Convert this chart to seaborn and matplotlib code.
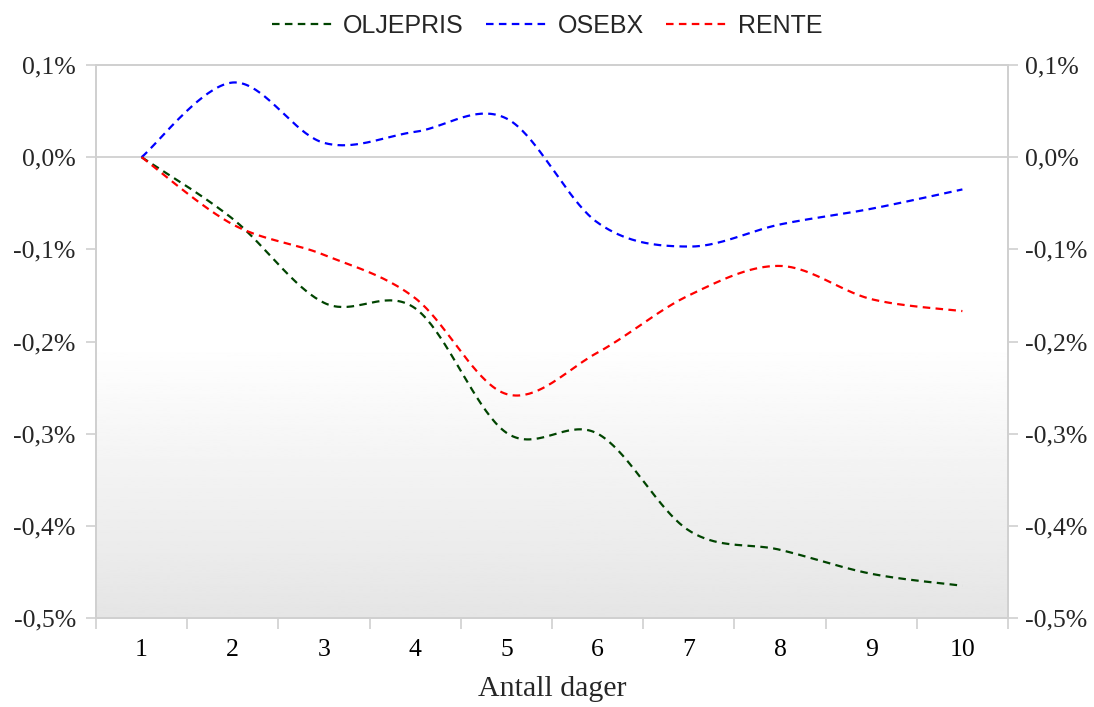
import numpy as np
import pandas as pd
import matplotlib
matplotlib.use("Agg")
import matplotlib.pyplot as plt
import seaborn as sns
from matplotlib.ticker import FuncFormatter, FixedLocator

# ---- data (percent) ----
days = [1, 2, 3, 4, 5, 6, 7, 8, 9, 10]
oljepris = [0.0, -0.067, -0.158, -0.164, -0.299, -0.300, -0.405, -0.426, -0.452, -0.465]
osebx = [0.0, 0.081, 0.0155, 0.0275, 0.042, -0.071, -0.097, -0.073, -0.056, -0.035]
rente = [0.0, -0.073, -0.106, -0.153, -0.257, -0.212, -0.150, -0.118, -0.154, -0.167]
series_names = ["OLJEPRIS", "OSEBX", "RENTE"]
colors = ["#004400", "#0000ff", "#ff0000"]
yticks = [0.1, 0.0, -0.1, -0.2, -0.3, -0.4, -0.5]


def smooth(xs, ys, n=40):
    """Excel-style smoothed line: cubic Bezier segments with Catmull-Rom control points."""
    P = np.column_stack([xs, ys]).astype(float)
    m = len(P)
    out = []
    for i in range(m - 1):
        p0 = P[max(i - 1, 0)]
        p1 = P[i]
        p2 = P[i + 1]
        p3 = P[min(i + 2, m - 1)]
        c1 = p1 + (p2 - p0) / 6.0
        c2 = p2 - (p3 - p1) / 6.0
        t = np.linspace(0, 1, n, endpoint=(i == m - 2))[:, None]
        seg = ((1 - t) ** 3) * p1 + 3 * ((1 - t) ** 2) * t * c1 + 3 * (1 - t) * t ** 2 * c2 + t ** 3 * p2
        out.append(seg)
    out = np.vstack(out)
    return out[:, 0], out[:, 1]


sns.set_theme(style="white")
plt.rcParams["font.family"] = ["Liberation Serif", "DejaVu Serif"]

fig = plt.figure(figsize=(10.94, 7.07), dpi=100)
ax = fig.add_axes([96 / 1094, 1 - 618 / 707, (1008 - 96) / 1094, (618 - 65) / 707])

# background gradient: white on top, light gray at bottom
yy = np.linspace(1, 0, 300)  # axes fraction top->bottom
start = 0.5
g = np.where(yy > start, 1.0, 1.0 - (start - yy) / start * (1 - 0.898))
ax.imshow(g[:, None], aspect="auto", cmap="gray", vmin=0, vmax=1,
          extent=[0, 1, 0, 1], transform=ax.transAxes, zorder=0)

ax.axhline(0, color="#d0d0d0", lw=1.3, zorder=1)

for name, vals, col in zip(series_names, [oljepris, osebx, rente], colors):
    sx, sy = smooth(days, vals)
    df = pd.DataFrame({"x": sx, "y": sy})
    sns.lineplot(data=df, x="x", y="y", ax=ax, sort=False, estimator=None,
                 color=col, linewidth=1.6, linestyle=(0, (3.4, 2.4)), label=name, zorder=3)

ax.set_xlim(0.5, 10.5)
ax.set_ylim(-0.5, 0.1)

fmt = FuncFormatter(lambda v, p: f"{v:.1f}%".replace(".", ",").replace("-0,0", "0,0"))
ax.yaxis.set_major_locator(FixedLocator(yticks))
ax.yaxis.set_major_formatter(fmt)

ax.set_xticks(days)
ax.set_xticklabels([str(d) for d in days])
ax.set_xticks(np.arange(0.5, 11, 1.0), minor=True)
ax.tick_params(axis="x", which="major", length=0, pad=15, labelsize=18.5, colors="black")
ax.tick_params(axis="x", which="minor", length=8, width=1.2, color="#d0d0d0", bottom=True)
ax.tick_params(axis="y", which="major", length=7.5, width=1.2, color="#d0d0d0", left=True,
               labelsize=18.5, pad=7)

for s in ax.spines.values():
    s.set_color("#d0d0d0")
    s.set_linewidth(1.3)

ax.set_xlabel("Antall dager", fontsize=21.5, labelpad=11)
ax.set_ylabel("")

ax2 = ax.twinx()
ax2.set_ylim(-0.5, 0.1)
ax2.yaxis.set_major_locator(FixedLocator(yticks))
ax2.yaxis.set_major_formatter(fmt)
ax2.tick_params(axis="y", which="major", length=7.5, width=1.2, color="#d0d0d0", right=True,
                labelsize=18.5, pad=5)
ax2.grid(False)
ax.grid(False)
for s in ax2.spines.values():
    s.set_color("#d0d0d0")
    s.set_linewidth(1.3)

handles, labels = ax.get_legend_handles_labels()
if ax.get_legend() is not None:
    ax.get_legend().remove()
fig.legend(handles, labels, loc="upper center", bbox_to_anchor=(0.5, 1.012), ncol=3,
           frameon=False, handlelength=2.4, handletextpad=0.45, columnspacing=0.9,
           prop={"family": "Liberation Sans", "size": 18})

fig.savefig("out.png", dpi=100)
